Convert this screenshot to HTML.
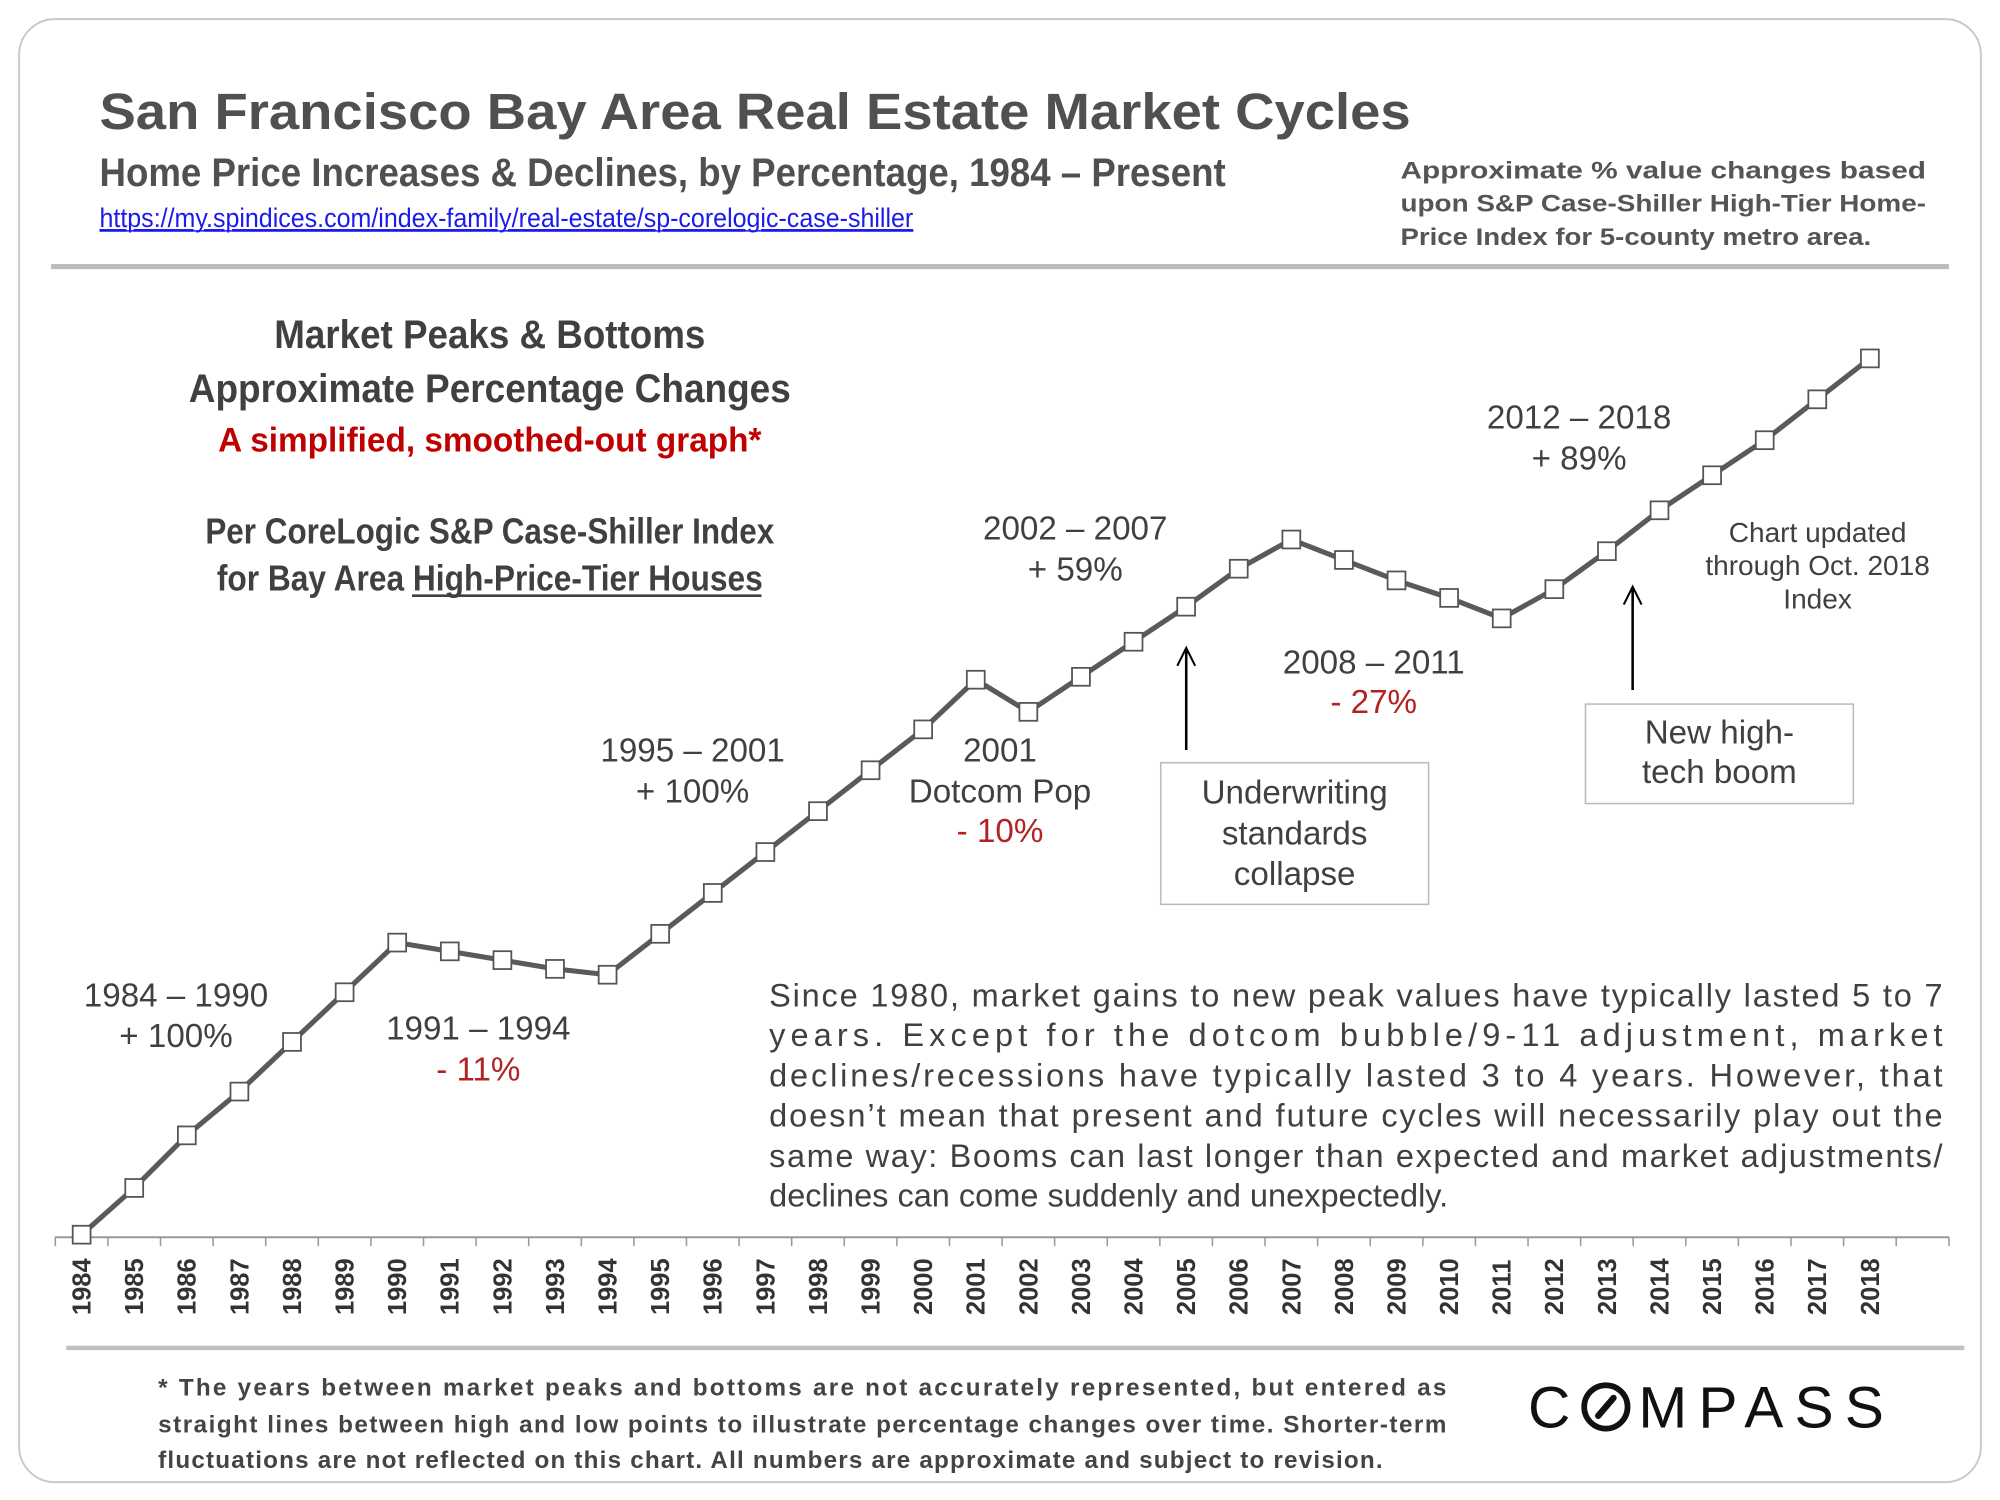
<!DOCTYPE html>
<html><head><meta charset="utf-8">
<style>
html,body{margin:0;padding:0;background:#fff;width:2000px;height:1500px;overflow:hidden}
svg{display:block}
.n{font-family:"Liberation Sans Narrow","Liberation Sans",sans-serif;font-weight:bold}
.a{font-family:"Liberation Sans",sans-serif}
.c{font-family:"Liberation Sans Narrow","Liberation Sans",sans-serif}
</style></head>
<body>
<svg id="chart" width="2000" height="1500" viewBox="0 0 1568 1176" xmlns="http://www.w3.org/2000/svg">
<rect x="15" y="15" width="1538" height="1147" rx="28" fill="#fff" stroke="#c8c8c8" stroke-width="1.5"/>
<text class="n" x="78" y="101" font-size="40" fill="#505050" textLength="1028" lengthAdjust="spacingAndGlyphs">San Francisco Bay Area Real Estate Market Cycles</text>
<text class="n" x="78" y="146" font-size="31" fill="#505050" textLength="883" lengthAdjust="spacingAndGlyphs">Home Price Increases &amp; Declines, by Percentage, 1984 – Present</text>
<text class="c" x="78" y="178" font-size="21" fill="#1a1aee" text-decoration="underline" textLength="638" lengthAdjust="spacingAndGlyphs">https://my.spindices.com/index-family/real-estate/sp-corelogic-case-shiller</text>
<line x1="78" y1="181" x2="716" y2="181" stroke="#1a1aee" stroke-width="1.2"/>
<g class="a" font-size="19" font-weight="bold" fill="#555">
<text x="1098" y="140" textLength="412" lengthAdjust="spacingAndGlyphs">Approximate % value changes  based</text>
<text x="1098" y="166" textLength="412" lengthAdjust="spacingAndGlyphs">upon S&amp;P Case-Shiller High-Tier Home-</text>
<text x="1098" y="192" textLength="369" lengthAdjust="spacingAndGlyphs">Price Index for 5-county metro area.</text>
</g>
<rect x="40" y="207" width="1488" height="4" fill="#bdbdbd"/>
<g class="n" text-anchor="middle">
<text x="384" y="273" font-size="31" fill="#404040" textLength="338" lengthAdjust="spacingAndGlyphs">Market Peaks &amp; Bottoms</text>
<text x="384" y="315" font-size="31" fill="#404040" textLength="472" lengthAdjust="spacingAndGlyphs">Approximate Percentage Changes</text>
<text x="384" y="354" font-size="27" fill="#c00000" textLength="426" lengthAdjust="spacingAndGlyphs">A simplified, smoothed-out graph*</text>
<text x="384" y="426" font-size="28" fill="#404040" textLength="446" lengthAdjust="spacingAndGlyphs">Per CoreLogic S&amp;P Case-Shiller Index</text>
<text x="384" y="463" font-size="28" fill="#404040" textLength="428" lengthAdjust="spacingAndGlyphs">for Bay Area High-Price-Tier Houses</text>
<line x1="323" y1="467" x2="597" y2="467" stroke="#404040" stroke-width="2"/>
</g>
<rect x="52" y="1055" width="1488" height="3.5" fill="#c0c0c0"/>
<g id="axis"></g>
<g id="plot"></g>
<g class="c" font-size="26" fill="#404040" text-anchor="middle">
<text x="138" y="789">1984 – 1990</text><text x="138" y="821">+ 100%</text>
<text x="375" y="815">1991 – 1994</text><text x="375" y="847" fill="#b22222">- 11%</text>
<text x="543" y="597">1995 – 2001</text><text x="543" y="629">+ 100%</text>
<text x="784" y="597">2001</text><text x="784" y="629">Dotcom Pop</text><text x="784" y="660" fill="#b22222">- 10%</text>
<text x="843" y="423">2002 – 2007</text><text x="843" y="455">+ 59%</text>
<text x="1077" y="528">2008 – 2011</text><text x="1077" y="559" fill="#b22222">- 27%</text>
<text x="1238" y="336">2012 – 2018</text><text x="1238" y="368">+ 89%</text>
<text x="1425" y="425" font-size="22">Chart updated</text><text x="1425" y="451" font-size="22">through Oct. 2018</text><text x="1425" y="477" font-size="22">Index</text>
</g>
<g>
<line x1="930" y1="588" x2="930" y2="510" stroke="#000" stroke-width="2"/>
<path d="M923 522 L930 508 L937 522" fill="none" stroke="#000" stroke-width="1.6"/>
<rect x="910" y="598" width="210" height="111" fill="#fff" stroke="#bbb" stroke-width="1.2"/>
<g class="c" font-size="26" fill="#404040" text-anchor="middle"><text x="1015" y="630">Underwriting</text><text x="1015" y="662">standards</text><text x="1015" y="694">collapse</text></g>
</g>
<g>
<line x1="1280" y1="541" x2="1280" y2="462" stroke="#000" stroke-width="2"/>
<path d="M1273 474 L1280 460 L1287 474" fill="none" stroke="#000" stroke-width="1.6"/>
<rect x="1243" y="552" width="210" height="78" fill="#fff" stroke="#bbb" stroke-width="1.2"/>
<g class="c" font-size="26" fill="#404040" text-anchor="middle"><text x="1348" y="583">New high-</text><text x="1348" y="614">tech boom</text></g>
</g>
<g class="c" font-size="25.5" fill="#404040">
<text x="603" y="789" textLength="920" lengthAdjust="spacing">Since 1980, market gains  to new peak values have typically lasted 5 to 7</text>
<text x="603" y="820" textLength="920" lengthAdjust="spacing">years.  Except  for  the  dotcom  bubble/9-11  adjustment,  market</text>
<text x="603" y="852" textLength="920" lengthAdjust="spacing">declines/recessions  have  typically  lasted  3  to  4  years.  However,  that</text>
<text x="603" y="883" textLength="920" lengthAdjust="spacing">doesn’t mean that present and future cycles will necessarily play out the</text>
<text x="603" y="915" textLength="920" lengthAdjust="spacing">same way: Booms can last longer than expected and market adjustments/</text>
<text x="603" y="946">declines can come suddenly and unexpectedly.</text>
</g>
<g class="a" font-size="19" font-weight="bold" fill="#444">
<text x="124" y="1094" textLength="1010" lengthAdjust="spacing">* The years between market peaks and bottoms are not accurately represented, but entered as</text>
<text x="124" y="1123" textLength="1010" lengthAdjust="spacing">straight lines between high and low points to illustrate percentage changes over time. Shorter-term</text>
<text x="124" y="1151" textLength="960" lengthAdjust="spacing">fluctuations are not reflected on this chart. All numbers are approximate and subject to revision.</text>
</g>
<g>
<text class="a" x="1198" y="1119" font-size="46" fill="#111" letter-spacing="7" textLength="286" lengthAdjust="spacing">C<tspan fill="#fff">O</tspan>MPASS</text>
<circle cx="1259" cy="1103" r="17" fill="none" stroke="#111" stroke-width="4.5"/>
<line x1="1253" y1="1110" x2="1265" y2="1096" stroke="#111" stroke-width="5" stroke-linecap="round"/>
</g>
</svg>
<script>
const years = [1984,1985,1986,1987,1988,1989,1990,1991,1992,1993,1994,1995,1996,1997,1998,1999,2000,2001,2002,2003,2004,2005,2006,2007,2008,2009,2010,2011,2012,2013,2014,2015,2016,2017,2018];
const indexValues = [100,116,134,149,166,183,200,197,194,191,189,203,217,231,245,259,273,290,279,291,303,315,328,338,331,324,318,311,321,334,348,360,372,386,400];
const NS = "http://www.w3.org/2000/svg";
function xScale(i){ return 64 + i * (1466 - 64) / (years.length - 1); }
function yScale(v){ return 968 - (v - 100) * 2.29; }
const axis = document.getElementById('axis');
const plot = document.getElementById('plot');
function mk(tag, attrs, parent){ const e = document.createElementNS(NS, tag); for (const k in attrs) e.setAttribute(k, attrs[k]); parent.appendChild(e); return e; }
const step = (1466 - 64) / (years.length - 1);
const axLine = mk('line', {x1:43, y1:970, x2:1528, y2:970, stroke:'#999', 'stroke-width':1.5}, axis);


for (let i = 0; i <= years.length; i++) {
  const tx = xScale(i) - step / 2;
  const t = mk('line', {x1:tx, y1:970, x2:tx, y2:977, stroke:'#999', 'stroke-width':1.2}, axis);
  
  
}
const tExtra = mk('line', {x1:1528, y1:970, x2:1528, y2:977, stroke:'#999', 'stroke-width':1.2}, axis);


years.forEach((yr, i) => {
  const x = xScale(i) + 7;
  const lbl = mk('text', {x:x, y:1031, transform:'rotate(-90 ' + x + ' 1031)', 'font-family':'"Liberation Sans",sans-serif', 'font-weight':'bold', 'font-size':20, fill:'#333'}, axis);
  lbl.textContent = yr;
  
  
});
const pts = indexValues.map((v, i) => xScale(i) + ',' + yScale(v)).join(' ');
const line = mk('polyline', {points:pts, fill:'none', stroke:'#5a5a5a', 'stroke-width':4, 'stroke-linejoin':'round'}, plot);


indexValues.forEach((v, i) => {
  const m = mk('rect', {x:xScale(i) - 7, y:yScale(v) - 7, width:14, height:14, fill:'#fff', stroke:'#555', 'stroke-width':1.4}, plot);
  
  
});
</script>
</body></html>
